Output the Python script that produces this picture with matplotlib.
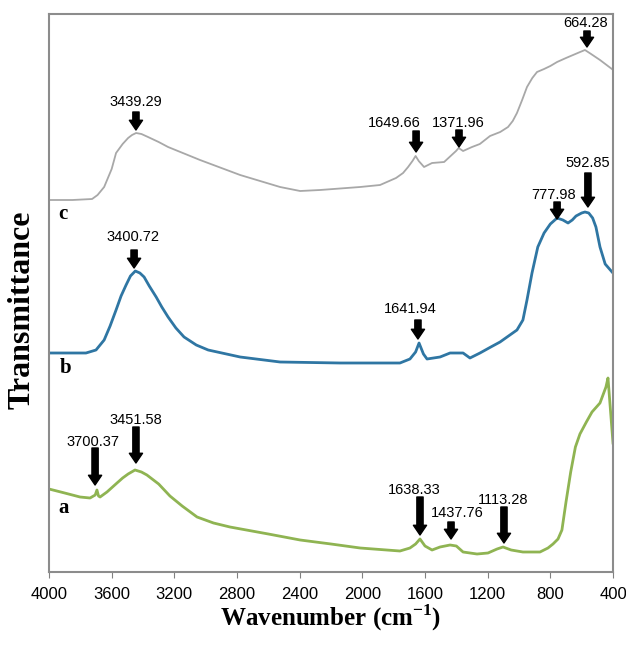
import matplotlib.pyplot as plt
import numpy as np

# ---- datos (eje y en unidades arbitrarias) ----
wn_c = [4000, 3850, 3725, 3690, 3648, 3600, 3572, 3530, 3495, 3470, 3444, 3410, 3368, 3300,
        3240, 3036, 2780, 2525, 2397, 2270, 2014, 1887, 1785, 1740, 1708, 1680, 1660, 1640,
        1606, 1555, 1478, 1402, 1385, 1357, 1300, 1250, 1185, 1120, 1070, 1040, 1013, 980,
        949, 915, 885, 840, 800, 757, 700, 655, 610, 579, 540, 483, 407]
t_c = [372, 372, 373, 377, 385, 403, 419, 428, 434, 437, 439, 438, 435, 430,
       425, 412, 397, 385, 381, 382, 385, 387, 394, 399, 405, 411, 416, 411,
       405, 409, 410, 421, 424, 421, 425, 428, 436, 440, 445, 451, 459, 472,
       485, 494, 500, 503, 506, 510, 514, 517, 520, 522, 518, 512, 503]

wn_b = [4000, 3764, 3700, 3648, 3610, 3572, 3540, 3508, 3480, 3449, 3420, 3393, 3360, 3316,
        3280, 3240, 3190, 3138, 3060, 2984, 2780, 2525, 2142, 1760, 1696, 1660, 1638, 1610,
        1587, 1504, 1440, 1357, 1313, 1249, 1180, 1121, 1013, 975, 949, 917, 880, 840, 800,
        757, 720, 687, 660, 636, 600, 579, 555, 530, 509, 483, 450, 406]
t_b = [219, 219, 222, 232, 246, 262, 276, 287, 296, 301, 299, 295, 286, 275,
       265, 255, 244, 235, 227, 222, 215, 210, 209, 209, 213, 220, 229, 218,
       213, 215, 219, 219, 214, 219, 225, 230, 242, 252, 272, 299, 325, 339, 348,
       354, 352, 349, 352, 356, 359, 360, 359, 354, 345, 325, 308, 300]

wn_a = [4000, 3900, 3802, 3738, 3705, 3694, 3684, 3674, 3630, 3566, 3530, 3495, 3451, 3410,
        3375, 3300, 3228, 3150, 3055, 2950, 2845, 2600, 2397, 2200, 2014, 1760, 1696, 1660,
        1632, 1600, 1555, 1504, 1440, 1400, 1357, 1268, 1198, 1140, 1102, 1050, 975, 866,
        815, 783, 751, 726, 700, 670, 640, 611, 570, 534, 483, 445, 432, 400]
t_a = [83, 79, 75, 74, 77, 82, 76, 75, 80, 89, 94, 98, 102, 100,
       97, 88, 76, 66, 55, 49, 45, 38, 32, 28, 24, 21, 24, 28,
       33, 26, 22, 25, 27, 26, 20, 18, 19, 23, 25, 22, 20, 20,
       24, 28, 33, 42, 70, 100, 125, 138, 150, 160, 169, 185, 194, 129]

# picos marcados: etiqueta, x de la flecha, y cola, y punta, x texto, y texto
picos_c = [('3439.29', 3445, 460, 442, 3445, 470),
           ('1649.66', 1657, 441, 420, 1798, 449),
           ('1371.96', 1383, 442, 425, 1389, 449),
           ('664.28', 566, 541, 525, 572, 549)]
picos_b = [('3400.72', 3457, 322, 304, 3464, 335),
           ('1641.94', 1645, 252, 233, 1696, 263),
           ('777.98', 757, 370, 353, 777, 377),
           ('592.85', 560, 399, 365, 560, 409)]
picos_a = [('3700.37', 3706, 124, 87, 3719, 130),
           ('3451.58', 3445, 145, 109, 3445, 152),
           ('1638.33', 1632, 75, 37, 1670, 82),
           ('1437.76', 1434, 50, 33, 1396, 59),
           ('1113.28', 1096, 65, 29, 1102, 72)]

xticks = [4000, 3600, 3200, 2800, 2400, 2000, 1600, 1200, 800, 400]

# %%
plt.rcParams['mathtext.fontset'] = 'custom'
plt.rcParams['mathtext.rm'] = 'Liberation Serif'
plt.rcParams['mathtext.bf'] = 'Liberation Serif:bold'
num_font = ['Liberation Sans', 'DejaVu Sans']
serif = ['Liberation Serif', 'DejaVu Serif']

fig = plt.figure(figsize=(6.26, 6.45), dpi=100)
ax = fig.add_axes([49/626, 1-572/645, 564/626, 558/645])

ax.plot(wn_c, t_c, color='#a8a8a8', lw=1.3)
ax.plot(wn_b, t_b, color='#2f76a3', lw=2.0)
ax.plot(wn_a, t_a, color='#8fb452', lw=2.0)

for picos in [picos_c, picos_b, picos_a]:
    for lab, xa, y0, y1, xt, yt in picos:
        ax.annotate('', xy=(xa, y1), xytext=(xa, y0),
                    arrowprops=dict(arrowstyle='simple,head_length=0.7,head_width=0.95,tail_width=0.45',
                                    fc='black', ec='black', shrinkA=0, shrinkB=0),
                    annotation_clip=False)
        ax.text(xt, yt, lab, ha='center', va='center', fontsize=10.5, family=num_font)

# letras de las curvas
ax.text(3940, 358, 'c', fontsize=15, fontweight='bold', family=serif, va='center')
ax.text(3930, 204, 'b', fontsize=15, fontweight='bold', family=serif, va='center')
ax.text(3940, 64, 'a', fontsize=15, fontweight='bold', family=serif, va='center')

ax.set_xlim(4000, 400)
ax.set_ylim(0, 558)
ax.set_xticks(xticks)
ax.set_xticklabels([str(t) for t in xticks], family=num_font, fontsize=12)
ax.set_yticks([])
ax.tick_params(axis='x', direction='out', length=4, color='#808080', pad=7)
for s in ax.spines.values():
    s.set_color('#8c8c8c')
    s.set_linewidth(1.5)

fig.text(331/626, 1-618/645, r'Wavenumber (cm$^{\mathbf{-1}}$)', ha='center', va='center',
         fontsize=18, fontweight='bold', family=serif)
fig.text(22/626, 1-310/645, 'Transmittance', ha='center', va='center', rotation=90,
         fontsize=23, fontweight='bold', family=serif)

fig.savefig('out.png', dpi=100)
